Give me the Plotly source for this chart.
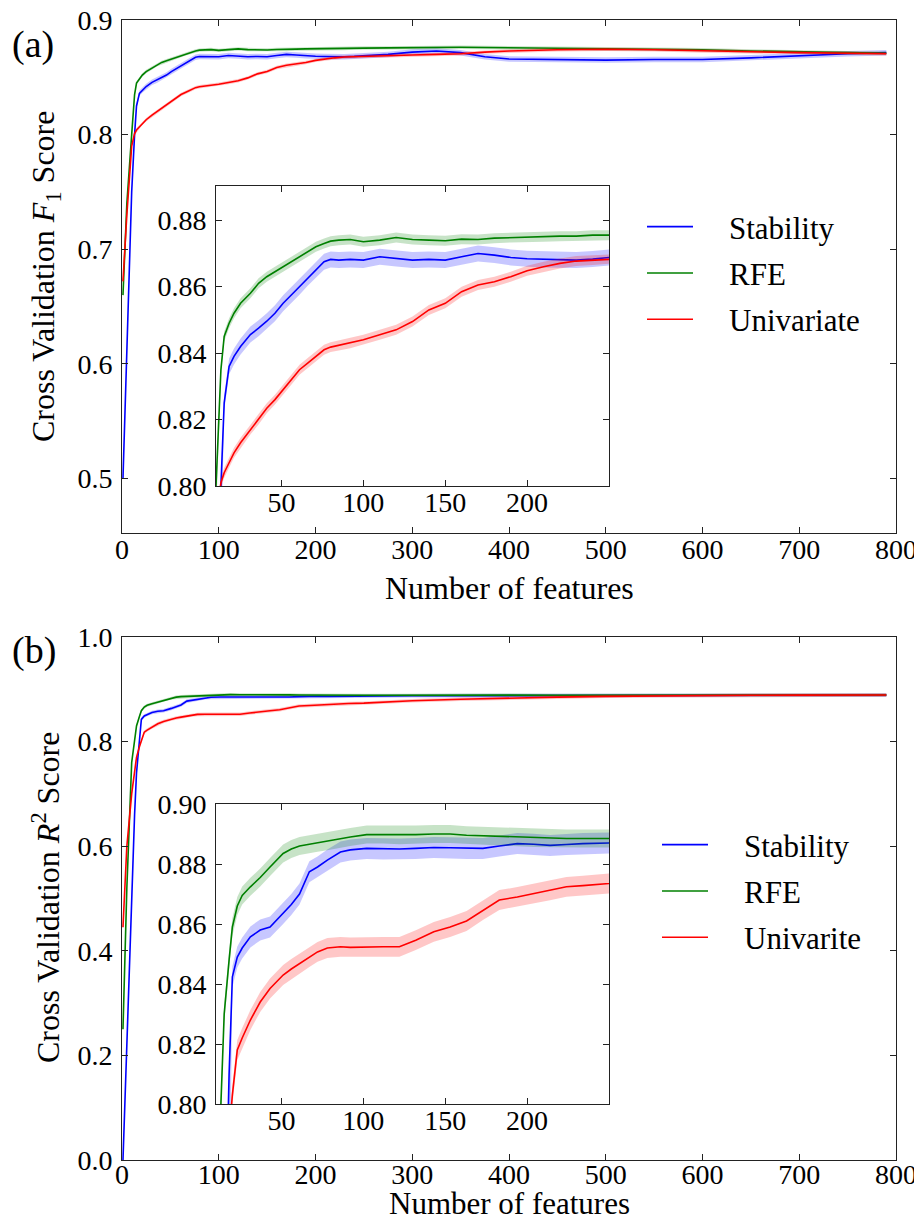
import plotly.graph_objects as go

# ---------------- Panel (a): F1 score ----------------
x_a = [1, 5, 10, 13, 15, 18, 21, 25, 31, 36, 41, 46, 51, 56, 61, 66, 71, 76, 80, 85,
       92, 100, 110, 120, 130, 140, 150, 160, 170, 180, 190, 200, 210, 220, 230, 240,
       250, 275, 300, 325, 350, 375, 400, 450, 500, 550, 600, 650, 700, 750, 790]
stab_a = [0.500, 0.62, 0.75, 0.80, 0.825, 0.836, 0.839, 0.842, 0.8456, 0.8475, 0.8496,
          0.852, 0.855, 0.8575, 0.860, 0.8627, 0.8652, 0.8675, 0.8682, 0.868, 0.8682,
          0.868, 0.869, 0.8685, 0.868, 0.8682, 0.868, 0.869, 0.870, 0.8695, 0.8688,
          0.8684, 0.8682, 0.868, 0.868, 0.8683, 0.8687, 0.870, 0.872, 0.873, 0.8715,
          0.868, 0.866, 0.8655, 0.865, 0.8655, 0.8655, 0.867, 0.869, 0.8705, 0.8715]
rfe_a = [0.660, 0.74, 0.80, 0.835, 0.845, 0.849, 0.852, 0.855, 0.858, 0.861, 0.863,
         0.8645, 0.866, 0.8675, 0.869, 0.8705, 0.872, 0.873, 0.8737, 0.874, 0.8742,
         0.8735, 0.874, 0.8748, 0.8742, 0.874, 0.8738, 0.8743, 0.8742, 0.8746, 0.8748,
         0.875, 0.875, 0.8752, 0.8752, 0.8755, 0.8755, 0.8757, 0.876, 0.876, 0.8762,
         0.876, 0.8758, 0.8755, 0.8752, 0.8745, 0.874, 0.873, 0.872, 0.8715, 0.871]
uni_a = [0.672, 0.73, 0.79, 0.801, 0.804, 0.807, 0.810, 0.813, 0.817, 0.820, 0.8234,
         0.826, 0.829, 0.832, 0.835, 0.837, 0.839, 0.841, 0.8418, 0.8423, 0.843,
         0.844, 0.8455, 0.847, 0.8495, 0.853, 0.855, 0.8585, 0.8605, 0.8615, 0.863,
         0.8648, 0.866, 0.867, 0.8677, 0.868, 0.8684, 0.869, 0.8695, 0.870, 0.8705,
         0.872, 0.873, 0.874, 0.8745, 0.874, 0.873, 0.872, 0.8715, 0.871, 0.8705]
sd_stab_a = 0.0024
sd_rfe_a = 0.0015
sd_uni_a = 0.0015

# ---------------- Panel (b): R2 score ----------------
x_b = [1, 5, 10, 13, 15, 18, 20, 23, 26, 31, 37, 43, 51, 56, 61, 67, 72, 78, 86, 92,
       102, 112, 122, 132, 143, 153, 163, 173, 183, 194, 204, 214, 224, 234, 250, 275,
       300, 350, 400, 450, 500, 550, 600, 650, 700, 750, 790]
stab_b = [0.0, 0.22, 0.52, 0.66, 0.74, 0.81, 0.8424, 0.849, 0.852, 0.8557, 0.858,
          0.859, 0.8635, 0.8665, 0.870, 0.8774, 0.879, 0.8813, 0.884, 0.8847, 0.8852,
          0.885, 0.885, 0.8852, 0.8855, 0.8854, 0.8852, 0.8852, 0.886, 0.8868, 0.8866,
          0.8862, 0.8865, 0.8868, 0.887, 0.8873, 0.8876, 0.8878, 0.888, 0.8882, 0.8884,
          0.8882, 0.8878, 0.888, 0.8885, 0.8888, 0.889]
rfe_b = [0.25, 0.52, 0.76, 0.80, 0.83, 0.848, 0.859, 0.866, 0.8695, 0.8724, 0.8755,
         0.879, 0.8835, 0.885, 0.886, 0.8866, 0.8871, 0.8876, 0.8883, 0.889, 0.8898,
         0.8898, 0.8896, 0.8898, 0.89, 0.89, 0.8896, 0.8894, 0.8892, 0.8889, 0.8887,
         0.8886, 0.8885, 0.8885, 0.8885, 0.8887, 0.889, 0.889, 0.8888, 0.8887, 0.8887,
         0.8886, 0.8886, 0.8887, 0.8888, 0.8889, 0.889]
uni_b = [0.445, 0.60, 0.70, 0.745, 0.77, 0.79, 0.803, 0.818, 0.822, 0.828, 0.834,
         0.8385, 0.843, 0.845, 0.8468, 0.849, 0.8507, 0.852, 0.8524, 0.8522, 0.8524,
         0.8524, 0.8524, 0.8546, 0.8574, 0.859, 0.861, 0.8646, 0.868, 0.869, 0.8702,
         0.8712, 0.8724, 0.8728, 0.8735, 0.876, 0.878, 0.881, 0.8835, 0.885, 0.8865,
         0.8875, 0.888, 0.8885, 0.8888, 0.8889, 0.889]
sd_stab_b = 0.0035
sd_rfe_b = 0.003
sd_uni_b = 0.0033

names_a = ["Stability", "RFE", "Univariate"]
names_b = ["Stability", "RFE", "Univarite"]
colors = ["rgb(0,0,255)", "rgb(0,128,0)", "rgb(255,0,0)"]
fills = ["rgba(0,0,255,0.22)", "rgba(0,128,0,0.22)", "rgba(255,0,0,0.22)"]

x_title = "Number of features"
y_title_a = "Cross Validation <i>F</i><sub>1</sub> Score"
y_title_b = "Cross Validation <i>R</i><sup>2</sup> Score"

FONT = "Liberation Serif, Tinos, Times New Roman, DejaVu Serif, serif"
OFF = 8  # page body margin
W, H = 922 - OFF, 1226 - 2 * OFF
PAD = "\u00a0\u00a0\u00a0\u00a0"

fig = go.Figure()


def add_series(x, y, sd, name, color, fill, xa, ya, group, legend, show):
    lo = [v - sd for v in y]
    hi = [v + sd for v in y]
    fig.add_trace(go.Scatter(x=x + x[::-1], y=hi + lo[::-1], fill="toself",
                             fillcolor=fill, line=dict(width=0), hoverinfo="skip",
                             showlegend=False, legendgroup=group, legend=legend,
                             xaxis=xa, yaxis=ya))
    fig.add_trace(go.Scatter(x=x, y=y, mode="lines", name=PAD + name,
                             line=dict(color=color, width=1.6),
                             showlegend=show, legendgroup=group, legend=legend,
                             xaxis=xa, yaxis=ya))


series_a = [(stab_a, sd_stab_a), (rfe_a, sd_rfe_a), (uni_a, sd_uni_a)]
series_b = [(stab_b, sd_stab_b), (rfe_b, sd_rfe_b), (uni_b, sd_uni_b)]

for i, (y, sd) in enumerate(series_a):
    add_series(x_a, y, sd, names_a[i], colors[i], fills[i], "x", "y", "a%d" % i, "legend", True)
    add_series(x_a, y, sd, names_a[i], colors[i], fills[i], "x2", "y2", "a%d" % i, "legend", False)
for i, (y, sd) in enumerate(series_b):
    add_series(x_b, y, sd, names_b[i], colors[i], fills[i], "x3", "y3", "b%d" % i, "legend2", True)
    add_series(x_b, y, sd, names_b[i], colors[i], fills[i], "x4", "y4", "b%d" % i, "legend2", False)


def dx(a, b):
    return [(a - OFF) / W, (b - OFF) / W]


def dy(top, bottom):
    return [1 - (bottom - OFF) / H, 1 - (top - OFF) / H]


def px(xp):
    return (xp - OFF) / W


def py(yp):
    return 1 - (yp - OFF) / H


tickfont = dict(family=FONT, size=28, color="black")
axcommon = dict(showline=True, linecolor="#222", linewidth=1, mirror="ticks",
                ticks="inside", ticklen=6, tickcolor="#222", showgrid=False,
                zeroline=False, tickfont=tickfont, automargin=False,
                ticklabeloverflow="allow")
xcommon = dict(axcommon, ticklabelstandoff=-9)
ycommon = dict(axcommon, ticklabelstandoff=3)


def ann(text, xp, yp, size=32, angle=0, xanchor="center"):
    return dict(text=text, x=px(xp), y=py(yp), xref="paper", yref="paper",
                xanchor=xanchor, yanchor="middle", showarrow=False, textangle=angle,
                font=dict(family=FONT, size=size, color="black"))


fig.update_layout(
    template="none",
    width=W, height=H, margin=dict(l=0, r=0, t=0, b=0, autoexpand=False),
    paper_bgcolor="white", plot_bgcolor="white",
    showlegend=True,
    xaxis=dict(domain=dx(122, 896), range=[0, 800], dtick=100, anchor="y", **xcommon),
    yaxis=dict(domain=dy(20, 533), range=[0.4525, 0.9], dtick=0.1, tickformat=".1f",
               anchor="x", **ycommon),
    xaxis2=dict(domain=dx(216, 609), range=[10, 250], tickvals=[50, 100, 150, 200],
                anchor="y2", **xcommon),
    yaxis2=dict(domain=dy(186, 486), range=[0.80, 0.8903], dtick=0.02,
                tickformat=".2f", anchor="x2", **ycommon),
    xaxis3=dict(domain=dx(122, 896), range=[0, 800], dtick=100, anchor="y3",
                **dict(xcommon, ticklabelstandoff=-11)),
    yaxis3=dict(domain=dy(637, 1160), range=[0, 1.0], dtick=0.2, tickformat=".1f",
                anchor="x3", **ycommon),
    xaxis4=dict(domain=dx(216, 609), range=[10, 250], tickvals=[50, 100, 150, 200],
                anchor="y4", **xcommon),
    yaxis4=dict(domain=dy(804, 1104), range=[0.80, 0.90], dtick=0.02,
                tickformat=".2f", anchor="x4", **ycommon),
    legend=dict(x=px(642), y=py(200), xanchor="left", yanchor="top",
                font=dict(family=FONT, size=31, color="black"),
                bgcolor="rgba(0,0,0,0)", tracegroupgap=3, itemwidth=46),
    legend2=dict(x=px(657), y=py(818), xanchor="left", yanchor="top",
                 font=dict(family=FONT, size=31, color="black"),
                 bgcolor="rgba(0,0,0,0)", tracegroupgap=3, itemwidth=46),
    annotations=[
        ann("(a)", 10, 45, size=38, xanchor="left"),
        ann("(b)", 10, 650, size=38, xanchor="left"),
        ann(x_title, 509, 588),
        ann(x_title, 509, 1203, size=31),
        ann(y_title_a, 46, 277, angle=-90),
        ann(y_title_b, 46, 898, angle=-90),
    ],
)

fig.write_html("out.html")
